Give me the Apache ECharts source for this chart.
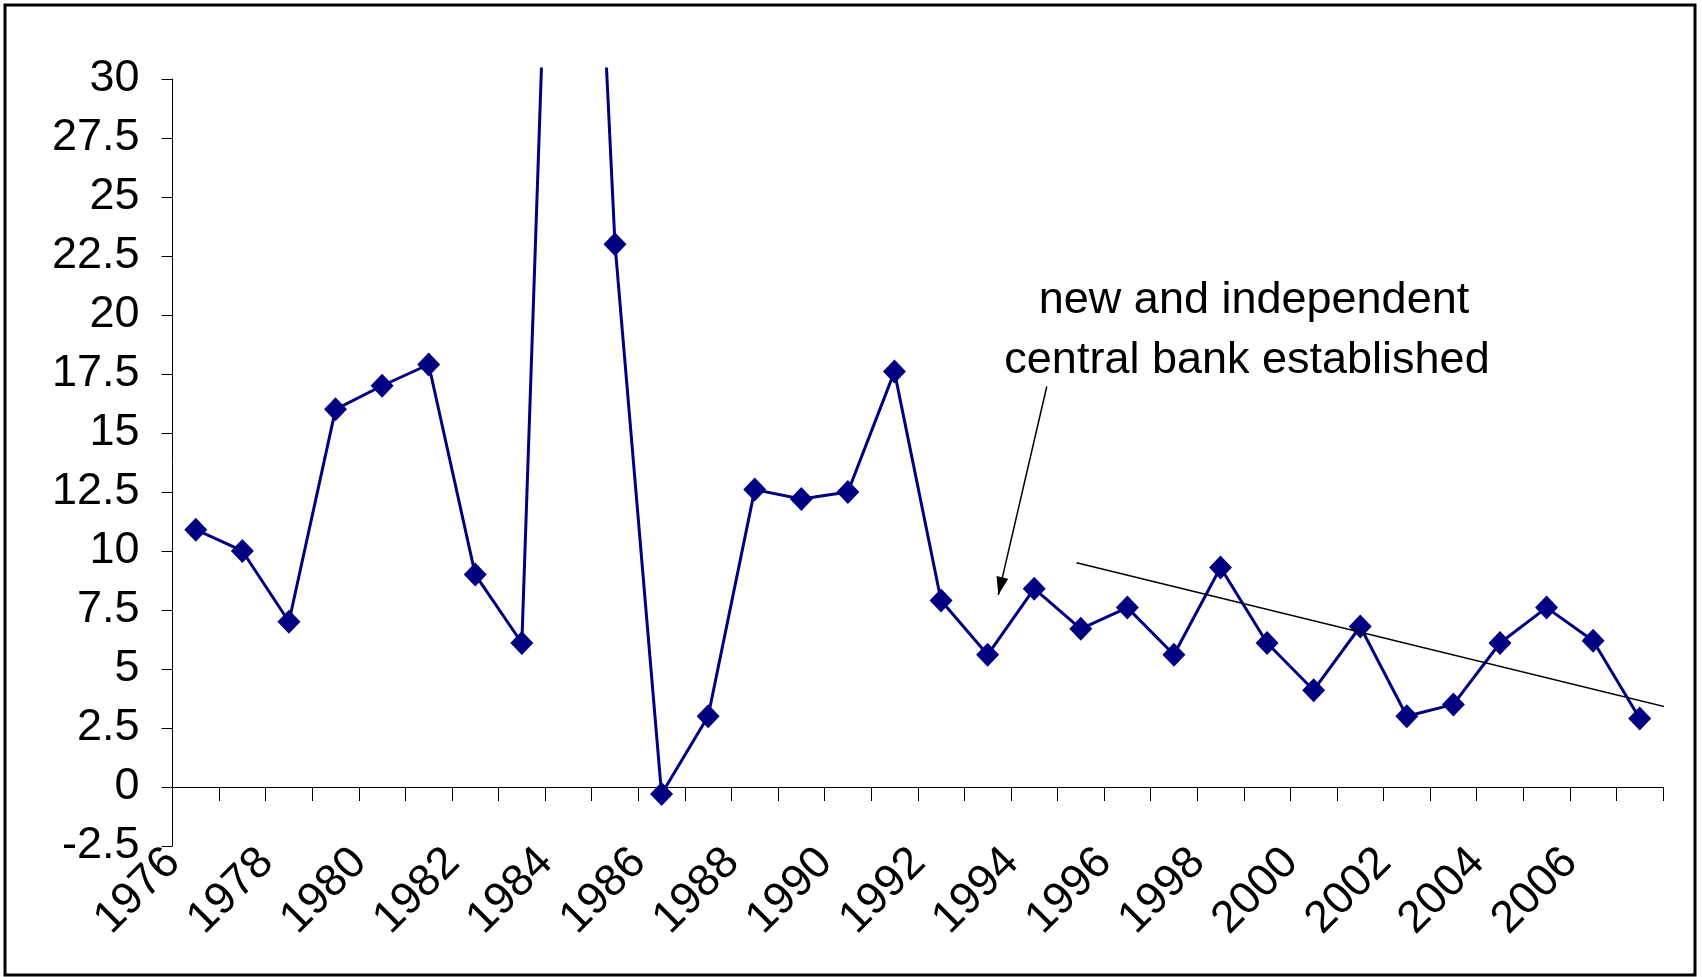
<!DOCTYPE html>
<html>
<head>
<meta charset="utf-8">
<script src="https://cdn.jsdelivr.net/npm/echarts@6/dist/echarts.min.js"></script>
<style>
html,body{margin:0;padding:0;background:#fff;}
#chart{width:1702px;height:977px;}
</style>
</head>
<body>
<div id="chart"></div>
<script>
// ---- data ----
const years = ['1976','1977','1978','1979','1980','1981','1982','1983','1984','1985',
               '1986','1987','1988','1989','1990','1991','1992','1993','1994','1995',
               '1996','1997','1998','1999','2000','2001','2002','2003','2004','2005',
               '2006','2007'];
const inflation = [10.9, 10.0, 7.0, 16.0, 17.0, 17.9, 9.0, 6.1, 64.0, 23.0,
                   -0.3, 3.0, 12.6, 12.2, 12.5, 17.6, 7.9, 5.6, 8.4, 6.7,
                   7.6, 5.6, 9.3, 6.1, 4.1, 6.8, 3.0, 3.5, 6.1, 7.6,
                   6.2, 2.9];
const yAxisMin = -2.5;
const yAxisMax = 30;
const yAxisStep = 2.5;
const lineClipMax = 30.42;           // the line is drawn a little past the top tick
const trendLine = [[18.91, 9.50], [31.63, 3.36]];   // [category index, value]
const arrowTail = [18.27, 16.97];
const arrowHead = [17.23, 8.14];
const noteLines = ['new and independent', 'central bank established'];

// ---- chart ----
const FONT = '"Liberation Sans", Arial, Helvetica, sans-serif';
const chart = echarts.init(document.getElementById('chart'), null, {renderer: 'canvas'});
const gridLeft = 172.5, gridRight = 39, gridBottom = 131;

chart.setOption({
  animation: false,
  backgroundColor: '#ffffff',
  grid: [
    {left: gridLeft, right: gridRight, top: 79, bottom: gridBottom, containLabel: false},
    {left: gridLeft, right: gridRight, top: 69, bottom: gridBottom, containLabel: false}
  ],
  xAxis: [
    { // axis line + ticks at zero
      gridIndex: 0, type: 'category', data: years, boundaryGap: true,
      axisLine: {show: true, onZero: true, lineStyle: {color: '#000', width: 1}},
      axisTick: {show: true, interval: 0, length: 14, lineStyle: {color: '#000', width: 1}},
      axisLabel: {show: false}, splitLine: {show: false}
    },
    { // labels at the bottom
      gridIndex: 0, type: 'category', data: years, boundaryGap: true, position: 'bottom',
      axisLine: {show: false, onZero: false}, axisTick: {show: false},
      axisLabel: {show: true, interval: 1, rotate: 45, fontSize: 45, fontFamily: FONT,
                  color: '#000', margin: -13, padding: [0, 32, 0, 0]},
      splitLine: {show: false}
    },
    { // value x axis for trend and arrow
      gridIndex: 0, type: 'value', min: -0.5, max: years.length - 0.5, show: false,
      axisLine: {onZero: false}, splitLine: {show: false}
    },
    { // hidden category axis for the main series
      gridIndex: 1, type: 'category', data: years, boundaryGap: true, show: false,
      axisLine: {onZero: false}
    }
  ],
  yAxis: [
    {
      gridIndex: 0, type: 'value', min: yAxisMin, max: yAxisMax, interval: yAxisStep,
      axisLine: {show: true, onZero: false, lineStyle: {color: '#000', width: 1}},
      axisTick: {show: true, length: 11, lineStyle: {color: '#000', width: 1}},
      axisLabel: {show: true, fontSize: 45, fontFamily: FONT, color: '#000', margin: 33},
      splitLine: {show: false}
    },
    {
      gridIndex: 1, type: 'value', min: yAxisMin, max: lineClipMax, show: false,
      axisLine: {onZero: false}, splitLine: {show: false}
    }
  ],
  series: [
    {
      type: 'line', xAxisIndex: 3, yAxisIndex: 1, data: inflation,
      symbol: 'diamond', symbolSize: [23, 24], showAllSymbol: true,
      lineStyle: {color: '#000080', width: 3},
      itemStyle: {color: '#000080'},
      clip: true, z: 3
    },
    {
      type: 'line', xAxisIndex: 2, yAxisIndex: 0, data: trendLine,
      symbol: 'none', clip: false, z: 4,
      lineStyle: {color: '#000', width: 1.5},
      markLine: {
        silent: true, animation: false,
        symbol: ['none', 'path://M6,0L12,18L0,18Z'],
        symbolSize: [12, 18],
        label: {show: false},
        lineStyle: {color: '#000', width: 1.5, type: 'solid'},
        data: [[
          {coord: arrowTail, symbol: 'none'},
          {coord: arrowHead, symbol: 'path://M6,0L12,18L0,18Z', symbolSize: [12, 18], symbolOffset: [0, 9]}
        ]]
      }
    }
  ],
  graphic: [
    {type: 'rect', shape: {x: 5, y: 5, width: 1690, height: 970},
     style: {fill: 'none', stroke: '#000', lineWidth: 3}, z: 100},
    {type: 'text', x: 1254, y: 301,
     style: {text: noteLines[0], font: '45px ' + FONT, fill: '#000',
             align: 'center', verticalAlign: 'middle', textAlign: 'center', textVerticalAlign: 'middle'}},
    {type: 'text', x: 1247, y: 361,
     style: {text: noteLines[1], font: '45px ' + FONT, fill: '#000',
             align: 'center', verticalAlign: 'middle', textAlign: 'center', textVerticalAlign: 'middle'}}
  ]
});
</script>
</body>
</html>
